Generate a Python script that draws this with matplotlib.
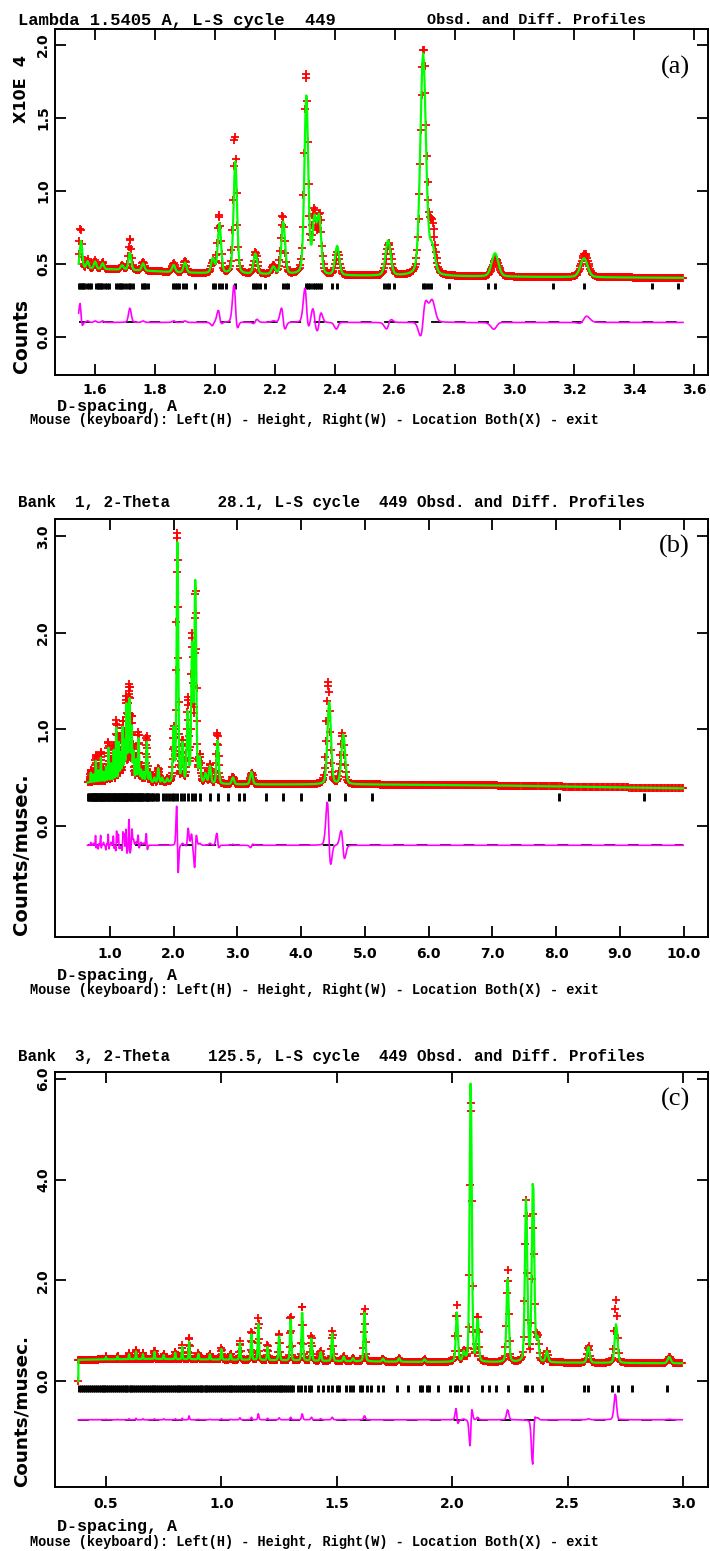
import numpy as np
import matplotlib
matplotlib.use("Agg")
import matplotlib.pyplot as plt

W, H = 710, 1551

# ---------------- panel (a) : X-ray ----------------
a_title = ["Lambda 1.5405 A, L-S cycle  449", "Obsd. and Diff. Profiles"]
a_xlim = (1.466, 3.646)
a_ylim = (-0.26, 2.11)
a_xticks = [1.6, 1.8, 2.0, 2.2, 2.4, 2.6, 2.8, 3.0, 3.2, 3.4, 3.6]
a_yticks = [0.0, 0.5, 1.0, 1.5, 2.0]
a_range = (1.545, 3.565, 0.0025)
a_bg_d = [1.545, 1.70, 1.90, 2.10, 2.40, 2.80, 3.20, 3.565]
a_bg_y = [0.47, 0.46, 0.44, 0.43, 0.42, 0.415, 0.41, 0.405]
a_pos = [1.553, 1.575, 1.600, 1.625, 1.690, 1.716, 1.760, 1.862, 1.900, 1.993, 2.015,
         2.068, 2.135, 2.195, 2.228, 2.305, 2.332, 2.348, 2.408, 2.578, 2.695, 2.725,
         2.935, 3.232]
a_calc = [0.19, 0.05, 0.05, 0.04, 0.03, 0.12, 0.05, 0.05, 0.07, 0.10, 0.34,
          0.77, 0.14, 0.05, 0.36, 1.22, 0.36, 0.38, 0.20, 0.24, 1.52, 0.18,
          0.16, 0.13]
a_obs = [0.28, 0.06, 0.06, 0.05, 0.03, 0.22, 0.06, 0.06, 0.08, 0.08, 0.40,
         0.95, 0.15, 0.06, 0.40, 1.38, 0.42, 0.40, 0.16, 0.22, 1.55, 0.33,
         0.12, 0.16]
a_shift = [-0.002, 0, 0, 0, 0, 0, 0, 0, 0, 0.001, -0.001,
           -0.0015, 0.001, 0, -0.002, -0.001, -0.0015, 0.0015, 0.001, 0.002, 0.0012, 0,
           0.002, 0.003]
a_wid = [0.0040, 0.004, 0.004, 0.004, 0.0045, 0.0045, 0.0045, 0.005, 0.005, 0.0055, 0.0055,
         0.0058, 0.006, 0.006, 0.0062, 0.0065, 0.0065, 0.0065, 0.007, 0.0085, 0.0094, 0.0094,
         0.011, 0.012]
a_hkl = [1.547, 1.551, 1.555, 1.559, 1.564, 1.572, 1.579, 1.586, 1.604, 1.609, 1.614, 1.619,
         1.624, 1.632, 1.641, 1.647, 1.671, 1.676, 1.682, 1.688, 1.694, 1.703, 1.712, 1.718,
         1.727, 1.756, 1.762, 1.768, 1.775, 1.861, 1.866, 1.872, 1.879, 1.893, 1.904, 1.935,
         1.993, 1.999, 2.012, 2.024, 2.038, 2.068, 2.126, 2.134, 2.142, 2.151, 2.166, 2.228,
         2.236, 2.245, 2.305, 2.311, 2.318, 2.326, 2.333, 2.341, 2.349, 2.355, 2.391, 2.408,
         2.566, 2.574, 2.581, 2.597, 2.693, 2.701, 2.712, 2.720, 2.781, 2.912, 2.935, 3.127,
         3.232, 3.460, 3.545]
a_diff0 = 0.10
a_hkl_y = (0.33, 0.37)

# ---------------- panel (b) : TOF bank 1 ----------------
b_title = "Bank  1, 2-Theta     28.1, L-S cycle  449 Obsd. and Diff. Profiles"
b_xlim = (0.14, 10.38)
b_ylim = (-1.15, 3.18)
b_xticks = [1.0, 2.0, 3.0, 4.0, 5.0, 6.0, 7.0, 8.0, 9.0, 10.0]
b_yticks = [0.0, 1.0, 2.0, 3.0]
b_range = (0.65, 10.0, 0.0022)
b_bg_d = [0.65, 1.0, 1.5, 2.0, 3.0, 5.0, 7.0, 9.0, 10.0]
b_bg_y = [0.45, 0.46, 0.45, 0.44, 0.43, 0.43, 0.42, 0.40, 0.39]
b_pos = [0.70, 0.74, 0.78, 0.82, 0.86, 0.90, 0.94, 0.98, 1.02, 1.06, 1.10, 1.14, 1.17,
         1.20, 1.23, 1.26, 1.29, 1.31, 1.34, 1.37, 1.41, 1.45, 1.49, 1.53, 1.58, 1.63,
         1.70, 1.76, 1.82, 1.90, 2.00, 2.06, 2.14, 2.22, 2.29, 2.34, 2.41, 2.50, 2.57,
         2.69, 2.93, 3.22, 4.44, 4.66]
b_calc = [0.10, 0.08, 0.22, 0.12, 0.25, 0.10, 0.15, 0.35, 0.18, 0.32, 0.55, 0.40, 0.28,
          0.55, 0.40, 0.78, 0.60, 0.80, 0.55, 0.30, 0.22, 0.45, 0.12, 0.10, 0.42, 0.10,
          0.05, 0.15, 0.05, 0.04, 0.55, 2.50, 0.40, 0.72, 1.42, 2.07, 0.25, 0.10, 0.18,
          0.45, 0.07, 0.13, 0.86, 0.52]
b_obs = [0.13, 0.10, 0.28, 0.10, 0.31, 0.13, 0.12, 0.41, 0.21, 0.37, 0.62, 0.46, 0.25,
         0.61, 0.46, 0.85, 0.66, 0.86, 0.66, 0.36, 0.25, 0.51, 0.15, 0.12, 0.48, 0.10,
         0.05, 0.15, 0.05, 0.04, 0.55, 2.60, 0.42, 0.86, 1.50, 1.97, 0.27, 0.10, 0.20,
         0.53, 0.08, 0.12, 1.06, 0.53]
b_shift = [0, 0, -0.002, 0.002, -0.002, 0, 0.002, -0.002, 0, -0.002, 0.002, -0.002, 0,
           0.002, -0.002, -0.002, 0.002, -0.002, 0.002, 0, 0, -0.002, 0, 0, -0.003, 0,
           0, 0, 0, 0, 0, -0.003, 0, 0.002, -0.001, 0.002, 0, 0, 0,
           -0.004, 0, 0.005, -0.016, -0.014]
b_relwid = 0.0062
b_hkl = [0.66, 0.675, 0.69, 0.70, 0.715, 0.73, 0.74, 0.755, 0.77, 0.78, 0.79, 0.80, 0.815,
         0.83, 0.84, 0.855, 0.86, 0.875, 0.89, 0.90, 0.915, 0.93, 0.94, 0.955, 0.97, 0.98,
         0.99, 1.005, 1.02, 1.03, 1.045, 1.06, 1.07, 1.085, 1.10, 1.11, 1.125, 1.14, 1.15,
         1.165, 1.17, 1.185, 1.20, 1.21, 1.225, 1.24, 1.255, 1.26, 1.275, 1.29, 1.30, 1.31,
         1.325, 1.34, 1.35, 1.365, 1.38, 1.395, 1.41, 1.425, 1.44, 1.45, 1.465, 1.48, 1.495,
         1.51, 1.525, 1.54, 1.56, 1.575, 1.585, 1.60, 1.62, 1.64, 1.66, 1.68, 1.71, 1.74,
         1.76, 1.83, 1.88, 1.93, 1.97, 2.01, 2.06, 2.12, 2.17, 2.22, 2.29, 2.34, 2.41, 2.57,
         2.69, 2.86, 3.02, 3.10, 3.45, 3.72, 4.00, 4.44, 4.68, 5.11, 8.05, 9.37]
b_diff0 = -0.20
b_hkl_y = (0.26, 0.34)

# ---------------- panel (c) : TOF bank 3 ----------------
c_title = "Bank  3, 2-Theta    125.5, L-S cycle  449 Obsd. and Diff. Profiles"
c_xlim = (0.279, 3.108)
c_ylim = (-2.105, 6.137)
c_xticks = [0.5, 1.0, 1.5, 2.0, 2.5, 3.0]
c_yticks = [0.0, 2.0, 4.0, 6.0]
c_range = (0.38, 3.0, 0.0014)
c_start = 0.0
c_bg_d = [0.38, 0.50, 0.70, 0.90, 1.10, 1.40, 1.80, 2.20, 2.60, 3.00]
c_bg_y = [0.42, 0.43, 0.44, 0.43, 0.42, 0.40, 0.38, 0.37, 0.36, 0.35]
c_pos = [0.50, 0.55, 0.60, 0.63, 0.66, 0.71, 0.75, 0.80, 0.83, 0.86, 0.90, 0.95, 1.00,
         1.04, 1.08, 1.13, 1.16, 1.20, 1.25, 1.30, 1.35, 1.39, 1.43, 1.48, 1.53, 1.57,
         1.62, 1.70, 1.77, 1.88, 2.02, 2.05, 2.08, 2.11, 2.24, 2.32, 2.35, 2.37, 2.41,
         2.59, 2.71, 2.94]
c_calc = [0.05, 0.06, 0.10, 0.15, 0.10, 0.15, 0.08, 0.13, 0.25, 0.36, 0.11, 0.11, 0.21,
          0.11, 0.34, 0.53, 0.72, 0.27, 0.50, 0.85, 1.00, 0.45, 0.18, 0.55, 0.09, 0.06,
          0.98, 0.06, 0.07, 0.05, 1.00, 0.18, 5.60, 0.85, 1.65, 3.25, 3.65, 0.45, 0.22,
          0.32, 0.78, 0.13]
c_obs = [0.06, 0.07, 0.12, 0.18, 0.12, 0.17, 0.10, 0.15, 0.28, 0.44, 0.12, 0.12, 0.23,
         0.12, 0.38, 0.58, 0.84, 0.30, 0.54, 0.90, 1.12, 0.50, 0.20, 0.60, 0.10, 0.06,
         1.06, 0.06, 0.07, 0.05, 1.12, 0.20, 5.35, 0.90, 1.85, 3.25, 2.95, 0.50, 0.22,
         0.34, 1.25, 0.14]
c_shift = [0, 0, 0, 0, 0, 0, 0, 0, 0, 0, 0, 0, 0,
           0, 0, 0, 0, 0, 0, 0, 0, 0, 0, 0, 0, 0,
           0, 0, 0, 0, -0.001, 0, 0.0005, 0, 0, 0, 0.001, 0, 0,
           0, -0.0015, 0]
c_relwid = 0.0022
c_hkl = [0.385, 0.393, 0.402, 0.410, 0.418, 0.427, 0.435, 0.443, 0.452, 0.460, 0.468, 0.477,
         0.485, 0.493, 0.502, 0.510, 0.518, 0.527, 0.535, 0.543, 0.552, 0.560, 0.568, 0.577,
         0.585, 0.593, 0.602, 0.610, 0.618, 0.627, 0.635, 0.643, 0.652, 0.660, 0.668, 0.677,
         0.685, 0.693, 0.702, 0.710, 0.718, 0.727, 0.735, 0.743, 0.752, 0.760, 0.768, 0.777,
         0.785, 0.793, 0.802, 0.810, 0.818, 0.827, 0.835, 0.843, 0.852, 0.860, 0.868, 0.877,
         0.885, 0.893, 0.902, 0.910, 0.918, 0.927, 0.935, 0.943, 0.952, 0.960, 0.968, 0.977,
         0.985, 0.993, 1.002, 1.010, 1.018, 1.027, 1.035, 1.043, 1.052, 1.060, 1.068, 1.077,
         1.085, 1.093, 1.102, 1.110, 1.118, 1.127, 1.135, 1.143, 1.152, 1.160, 1.168, 1.177,
         1.185, 1.193, 1.202, 1.210, 1.218, 1.227, 1.235, 1.243, 1.252, 1.260, 1.268, 1.277,
         1.285, 1.293, 1.302, 1.310, 1.33, 1.345, 1.36, 1.38, 1.39, 1.42, 1.44, 1.46, 1.48,
         1.50, 1.51, 1.54, 1.555, 1.57, 1.60, 1.61, 1.63, 1.65, 1.68, 1.70, 1.76, 1.81, 1.86,
         1.87, 1.89, 1.90, 1.94, 1.99, 2.01, 2.02, 2.04, 2.07, 2.13, 2.16, 2.19, 2.24, 2.315,
         2.325, 2.345, 2.39, 2.57, 2.59, 2.69, 2.72, 2.78, 2.93]
c_diff0 = -0.77
c_hkl_y = (-0.22, -0.08)

mouse_text = "Mouse (keyboard): Left(H) - Height, Right(W) - Location Both(X) - exit"

RED, GREEN, MAG = "#ff0000", "#00ff00", "#ff00ff"


def peak_sum(d, pos, hgt, wid, shift):
    y = np.zeros_like(d)
    for p, h, w, s in zip(pos, hgt, wid, shift):
        u = (d - p - s) / w
        y += h * (0.75 * np.exp(-0.5 * u ** 2) + 0.25 / (1.0 + (u / 1.1774) ** 2))
    return y


def fit_text(fig, x, y, s, length, rot=0, **kw):
    # place text at pixel coords and scale the font so it spans `length` px
    t = fig.text(x / W, 1 - y / H, s, rotation=rot, **kw)
    r = fig.canvas.get_renderer()
    bb = t.get_window_extent(r)
    cur = bb.height if rot else bb.width
    t.set_fontsize(t.get_fontsize() * length / cur)
    return t


def panel(fig, top, bottom, d, obs, calc, diff0, hkl, hkl_y, xlim, ylim,
          xticks, yticks, xpad):
    ax = fig.add_axes([55 / W, 1 - bottom / H, 653 / W, (bottom - top) / H])
    ax.plot(d, obs, ls="none", marker="+", ms=6, mew=1.3, color=RED, zorder=2)
    ax.plot(d, calc, color=GREEN, lw=1.6, zorder=3)
    ax.plot([d[0], d[-1]], [diff0, diff0], color="black", lw=1.3,
            ls=(0, (6, 7)), zorder=2)
    ax.plot(d, obs - calc + diff0, color=MAG, lw=1.2, zorder=3)
    ax.vlines(hkl, hkl_y[0], hkl_y[1], color="black", lw=2.1, zorder=2)
    ax.set_xlim(*xlim)
    ax.set_ylim(*ylim)
    ax.set_xticks(xticks)
    ax.set_yticks(yticks)
    ax.set_xticklabels(["%.1f" % v for v in xticks], fontsize=10, fontweight="bold")
    ax.set_yticklabels(["%.1f" % v for v in yticks], fontsize=10, fontweight="bold",
                       rotation=90, va="center")
    ax.tick_params(direction="in", length=8, width=1.3, top=True, right=True)
    ax.tick_params(axis="x", pad=xpad)
    ax.tick_params(axis="y", pad=3.5)
    for sp in ax.spines.values():
        sp.set_linewidth(1.4)
    return ax


fig = plt.figure(figsize=(W / 100, H / 100), dpi=100)
fig.patch.set_facecolor("white")

# panel (a)
d_a = np.arange(a_range[0], a_range[1], a_range[2])
bg_a = np.interp(d_a, a_bg_d, a_bg_y)
calc_a = bg_a + peak_sum(d_a, a_pos, a_calc, a_wid, [0] * len(a_pos))
obs_a = bg_a + peak_sum(d_a, a_pos, a_obs, a_wid, a_shift)
panel(fig, 29, 375, d_a, obs_a, calc_a, a_diff0, a_hkl, a_hkl_y, a_xlim, a_ylim,
      a_xticks, a_yticks, 5.5)

# panel (b)
d_b = np.exp(np.arange(np.log(b_range[0]), np.log(b_range[1]), b_range[2]))
bg_b = np.interp(d_b, b_bg_d, b_bg_y)
wid_b = [b_relwid * p for p in b_pos]
calc_b = bg_b + peak_sum(d_b, b_pos, b_calc, wid_b, [0] * len(b_pos))
obs_b = bg_b + peak_sum(d_b, b_pos, b_obs, wid_b, b_shift)
panel(fig, 519, 937, d_b, obs_b, calc_b, b_diff0, b_hkl, b_hkl_y, b_xlim, b_ylim,
      b_xticks, b_yticks, 7.5)

# panel (c)
d_c = np.exp(np.arange(np.log(c_range[0]), np.log(c_range[1]), c_range[2]))
bg_c = np.interp(d_c, c_bg_d, c_bg_y)
wid_c = [c_relwid * p for p in c_pos]
calc_c = bg_c + peak_sum(d_c, c_pos, c_calc, wid_c, [0] * len(c_pos))
obs_c = bg_c + peak_sum(d_c, c_pos, c_obs, wid_c, c_shift)
calc_c[0] = c_start
obs_c[0] = c_start
panel(fig, 1072, 1487, d_c, obs_c, calc_c, c_diff0, c_hkl, c_hkl_y, c_xlim, c_ylim,
      c_xticks, c_yticks, 7.5)

# titles and captions in the GSAS style
tf = dict(family="Liberation Mono", fontweight="bold", ha="left", va="center")
fit_text(fig, 18, 20, a_title[0], 321, **tf)
fit_text(fig, 427, 20, a_title[1], 219, **tf)
fit_text(fig, 18, 502, b_title, 630, **tf)
fit_text(fig, 18, 1057, c_title, 631, **tf)

for ydsp, ymouse in [(407, 420), (975, 990), (1526, 1542)]:
    fit_text(fig, 57, ydsp, "D-spacing, A", 120, **tf)
    fit_text(fig, 30, ymouse, mouse_text, 575, **tf)

lf = dict(family="DejaVu Sans", fontweight="bold", ha="center")
fit_text(fig, 22, 55, "X10E  4", 68, rot=90, va="top", **lf)
fit_text(fig, 22, 373, "Counts", 74, rot=90, va="bottom", **lf)
fit_text(fig, 22, 935, "Counts/musec.", 162, rot=90, va="bottom", **lf)
fit_text(fig, 22, 1487, "Counts/musec.", 152, rot=90, va="bottom", **lf)

pf = dict(family="Liberation Serif", fontsize=19, ha="right", va="center")
fig.text(690 / W, 1 - 67 / H, "(a)", **pf)
fig.text(690 / W, 1 - 546 / H, "(b)", **pf)
fig.text(690 / W, 1 - 1099 / H, "(c)", **pf)

fig.savefig("out.png", dpi=100)
